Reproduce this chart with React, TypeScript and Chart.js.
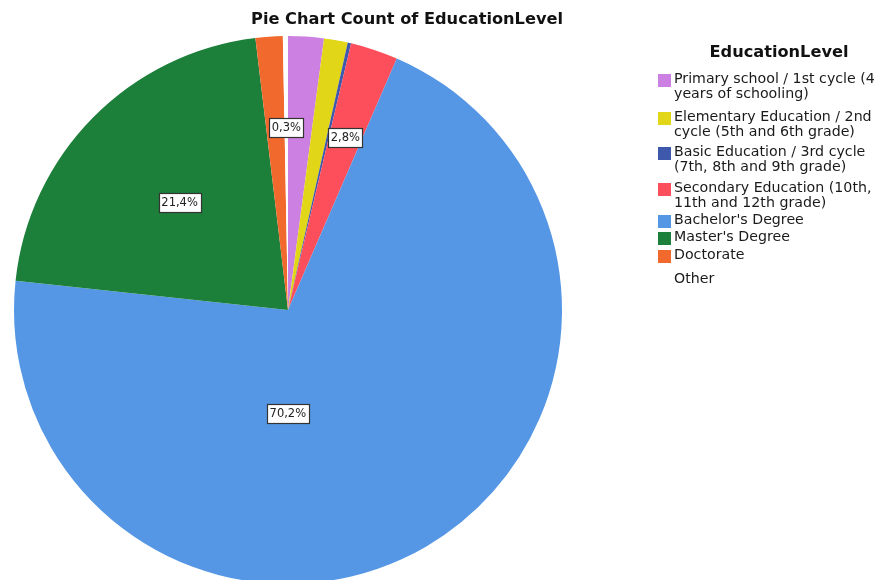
import React, { useEffect, useRef } from "react";
import { Chart, registerables } from "chart.js";

Chart.register(...registerables);

const titleText = "Pie Chart Count of EducationLevel";
const legendTitle = "EducationLevel";
const categories = [
  "Primary school / 1st cycle (4 years of schooling)",
  "Elementary Education / 2nd cycle (5th and 6th grade)",
  "Basic Education / 3rd cycle (7th, 8th and 9th grade)",
  "Secondary Education (10th, 11th and 12th grade)",
  "Bachelor's Degree",
  "Master's Degree",
  "Doctorate",
  "Other",
];
const legendLines = [
  ["Primary school / 1st cycle (4", "years of schooling)"],
  ["Elementary Education / 2nd", "cycle (5th and 6th grade)"],
  ["Basic Education / 3rd cycle", "(7th, 8th and 9th grade)"],
  ["Secondary Education (10th,", "11th and 12th grade)"],
  ["Bachelor's Degree"],
  ["Master's Degree"],
  ["Doctorate"],
  ["Other"],
];
const percents = [2.1, 1.4, 0.2, 2.8, 70.2, 21.4, 1.6, 0.3];
const showLabel = [false, false, false, true, true, true, false, true];

// styles / layout (kept separate from data)
const colors = [
  "#CC80E1",
  "#E2D618",
  "#3E58AC",
  "#FC4F5B",
  "#5597E5",
  "#1C7F3A",
  "#F2692D",
  "#FFFFFF",
];
const labelRadiusFrac = [0.66, 0.66, 0.66, 0.665, 0.376, 0.556, 0.66, 0.666];
const labelAngleFrac = [0.5, 0.5, 0.5, 0.5, 0.62, 0.5, 0.5, 0.5];
const legendItemTops = [71, 109, 144, 180, 212, 229, 247, 271];

const FONT = "'DejaVu Sans', sans-serif";

const labelPlugin = {
  id: "sliceLabels",
  afterDatasetsDraw(chart: any) {
    const ctx = chart.ctx;
    const meta = chart.getDatasetMeta(0);
    ctx.save();
    ctx.font = `11.5px ${FONT}`;
    ctx.textAlign = "center";
    ctx.textBaseline = "middle";
    meta.data.forEach((arc: any, i: number) => {
      if (!showLabel[i]) return;
      const { x, y, startAngle, endAngle, outerRadius } = arc.getProps(
        ["x", "y", "startAngle", "endAngle", "outerRadius"],
        true
      );
      const a = startAngle + (endAngle - startAngle) * labelAngleFrac[i];
      const r = outerRadius * labelRadiusFrac[i];
      const cx = x + Math.cos(a) * r;
      const cy = y + Math.sin(a) * r;
      const text = percents[i].toFixed(1).replace(".", ",") + "%";
      const w = Math.round(ctx.measureText(text).width + 5);
      const h = 19;
      const bx = Math.round(cx - w / 2) + 0.5;
      const by = Math.round(cy - h / 2) + 0.5;
      ctx.fillStyle = "#FFFFFF";
      ctx.fillRect(bx, by, w, h);
      ctx.strokeStyle = "#333333";
      ctx.lineWidth = 1.2;
      ctx.strokeRect(bx, by, w, h);
      ctx.fillStyle = "#222222";
      ctx.fillText(text, cx, cy + 0.5);
    });
    ctx.restore();
  },
};

export default function App() {
  const canvasRef = useRef<HTMLCanvasElement | null>(null);

  useEffect(() => {
    if (!canvasRef.current) return;
    const chart = new Chart(canvasRef.current, {
      type: "pie",
      data: {
        labels: categories,
        datasets: [
          {
            data: percents,
            backgroundColor: colors,
            borderWidth: 0,
          },
        ],
      },
      options: {
        animation: false,
        responsive: true,
        maintainAspectRatio: false,
        events: [],
        layout: { padding: { left: 14, right: 331, top: 36, bottom: 16 } },
        plugins: {
          legend: { display: false },
          tooltip: { enabled: false },
          title: { display: false },
        },
      },
      plugins: [labelPlugin],
    });
    return () => chart.destroy();
  }, []);

  return (
    <div
      style={{
        position: "fixed",
        left: 0,
        top: 0,
        width: 893,
        height: 580,
        overflow: "hidden",
        background: "#FFFFFF",
        fontFamily: FONT,
      }}
    >
      <div style={{ position: "absolute", left: 0, top: 0, width: 893, height: 600 }}>
        <canvas ref={canvasRef} />
      </div>
      <div
        style={{
          position: "absolute",
          left: 207,
          width: 400,
          top: 9,
          textAlign: "center",
          fontWeight: "bold",
          fontSize: 16.2,
          color: "#111",
          whiteSpace: "nowrap",
        }}
      >
        {titleText}
      </div>
      <div
        style={{
          position: "absolute",
          left: 679,
          width: 200,
          top: 42,
          textAlign: "center",
          fontWeight: "bold",
          fontSize: 16.2,
          color: "#111",
          whiteSpace: "nowrap",
        }}
      >
        {legendTitle}
      </div>
      {legendLines.map((lines, i) => (
        <div
          key={categories[i]}
          style={{ position: "absolute", left: 658, top: legendItemTops[i], width: 240 }}
        >
          <div
            style={{
              position: "absolute",
              left: 0,
              top: 3,
              width: 13,
              height: 13,
              background: colors[i],
            }}
          />
          <div
            style={{
              position: "absolute",
              left: 16,
              top: 0,
              fontSize: 14.2,
              lineHeight: "15px",
              color: "#1a1a1a",
              whiteSpace: "nowrap",
            }}
          >
            {lines.map((l) => (
              <div key={l}>{l}</div>
            ))}
          </div>
        </div>
      ))}
    </div>
  );
}
